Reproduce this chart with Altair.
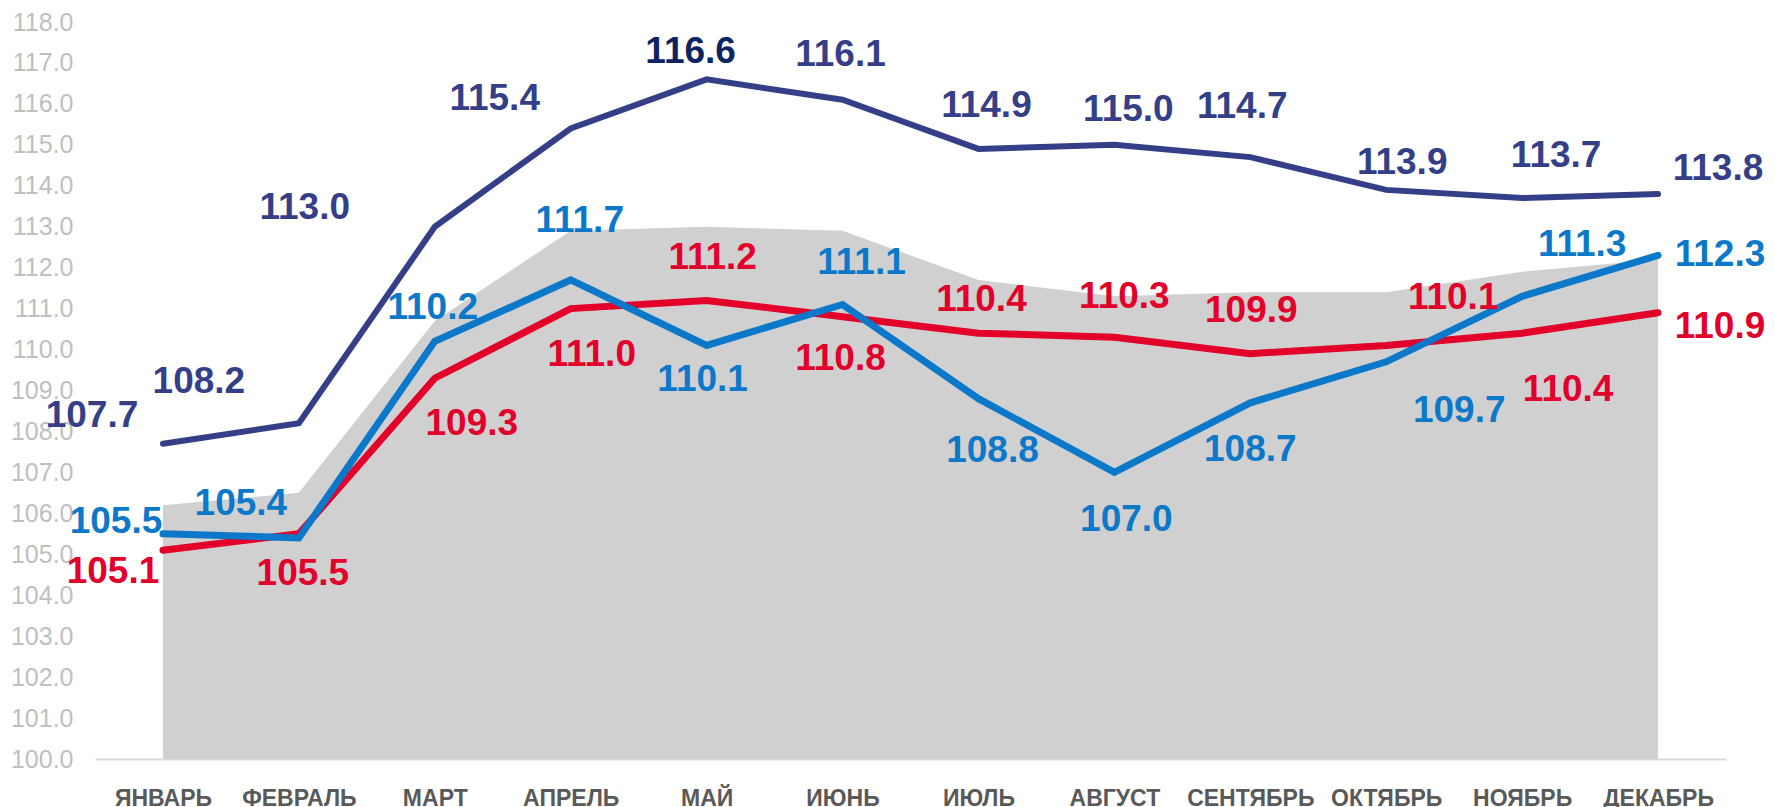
import altair as alt
import pandas as pd

months = ["ЯНВАРЬ", "ФЕВРАЛЬ", "МАРТ", "АПРЕЛЬ", "МАЙ", "ИЮНЬ",
          "ИЮЛЬ", "АВГУСТ", "СЕНТЯБРЬ", "ОКТЯБРЬ", "НОЯБРЬ", "ДЕКАБРЬ"]

navy_vals = [107.7, 108.2, 113.0, 115.4, 116.6, 116.1, 114.9, 115.0, 114.7, 113.9, 113.7, 113.8]
red_vals = [105.1, 105.5, 109.3, 111.0, 111.2, 110.8, 110.4, 110.3, 109.9, 110.1, 110.4, 110.9]
blue_vals = [105.5, 105.4, 110.2, 111.7, 110.1, 111.1, 108.8, 107.0, 108.7, 109.7, 111.3, 112.3]
gray_vals = [106.2, 106.5, 110.7, 112.9, 113.0, 112.9, 111.7, 111.3, 111.4, 111.4, 111.9, 112.2]

# label placement (pixel offsets from the point), as in the reference
navy_off = [(-71, -28), (-100, -41), (-130, -19), (-76, -29), (-16, -27), (-2, -45),
            (8, -43), (14, -35), (-8, -50), (16, -27), (34, -42), (60, -25)]
blue_off = [(-47, -12), (-58, -34), (-2, -33), (9, -59), (-4, 35), (19, -42),
            (14, 52), (12, 48), (0, 47), (73, 49), (60, -51), (62, 0)]
red_off = [(-50, 22), (4, 40), (37, 46), (21, 46), (6, -42), (-2, 42),
           (3, -33), (10, -40), (1, -43), (67, -47), (46, 57), (62, 14)]

NAVY = "#343F88"
NAVY_DARK = "#0E2462"
RED = "#E2002B"
BLUE = "#0B78C9"
GRAY = "#D0D0D0"

W, H = 1631, 737
Y_MIN, Y_MAX = 100, 118

series = [("Ряд 1", navy_vals, navy_off, NAVY),
          ("Ряд 2", red_vals, red_off, RED),
          ("Ряд 3", blue_vals, blue_off, BLUE)]

rows = []
for name, vals, offs, col in series:
    vmax = max(vals)
    for m, v, (dx, dy) in zip(months, vals, offs):
        lc = NAVY_DARK if (col == NAVY and v == vmax) else col
        rows.append({"month": m, "series": name, "value": v,
                     "label": f"{v:.1f}", "dx": dx, "dy": dy, "lcolor": lc})
df = pd.DataFrame(rows)
df_area = pd.DataFrame({"month": months, "value": gray_vals})

FONT = "Liberation Sans"

x_enc = alt.X("month:N", sort=months,
              scale=alt.Scale(type="point", padding=0.5),
              axis=alt.Axis(title=None, labelAngle=0, labelFont=FONT,
                            labelFontWeight="bold", labelFontSize=23,
                            labelColor="#595959", ticks=False, grid=False,
                            domainColor="#D9D9D9", domainWidth=2,
                            labelPadding=28))
y_scale = alt.Scale(domain=[Y_MIN, Y_MAX], nice=False, zero=False)
y_axis = alt.Axis(title=None, values=list(range(Y_MIN, Y_MAX + 1)),
                  format=".1f", labelFont=FONT, labelFontSize=25,
                  labelColor="#BFBFBF", ticks=False, domain=False,
                  grid=False, labelPadding=22)
y_enc = alt.Y("value:Q", scale=y_scale, axis=y_axis)

area = alt.Chart(df_area).mark_area(color=GRAY, opacity=1).encode(
    x=x_enc, y=y_enc, y2=alt.datum(Y_MIN))

def line_layer(name, color, width):
    return alt.Chart(df[df.series == name]).mark_line(
        color=color, strokeWidth=width, strokeCap="round", strokeJoin="miter"
    ).encode(x=x_enc, y=y_enc)

navy_line = line_layer("Ряд 1", NAVY, 6)
red_line = line_layer("Ряд 2", RED, 7)
blue_line = line_layer("Ряд 3", BLUE, 7)

px_per_unit = H / (Y_MAX - Y_MIN)
labels = alt.Chart(df).transform_calculate(
    ly=f"datum.value - datum.dy / {px_per_unit}"
).mark_text(
    font=FONT, fontWeight="bold", fontSize=37, baseline="middle", align="center"
).encode(
    x=x_enc,
    y=alt.Y("ly:Q", scale=y_scale, axis=y_axis),
    xOffset=alt.XOffset("dx:Q", scale=None),
    text="label:N",
    color=alt.Color("lcolor:N", scale=None),
)

chart = alt.layer(area, navy_line, red_line, blue_line, labels).properties(
    width=W, height=H,
    autosize=alt.AutoSizeParams(type="none"),
    padding={"left": 87, "top": 14, "right": 41, "bottom": 50},
    background="white",
).configure_view(stroke=None)

chart.save("out.html", embed_options={"renderer": "svg", "actions": False})
